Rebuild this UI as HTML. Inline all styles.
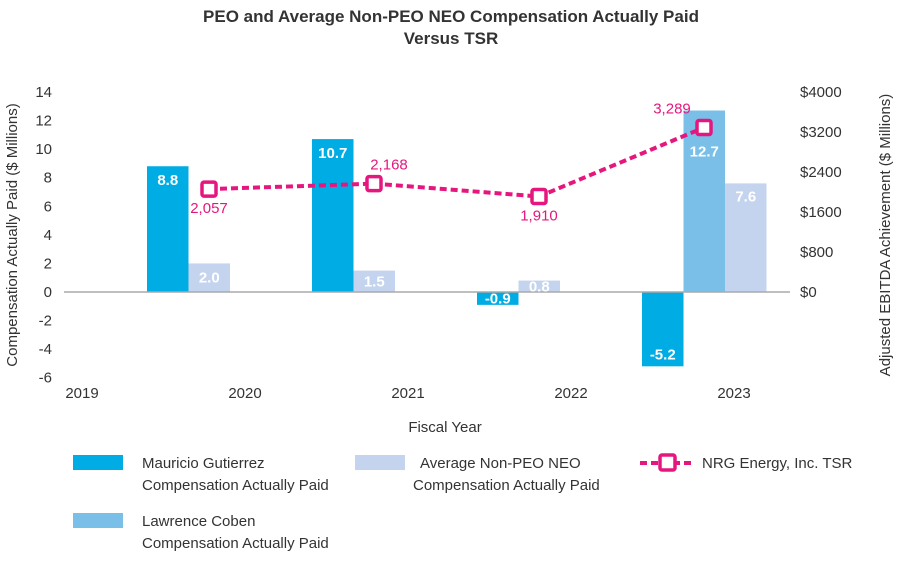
<!DOCTYPE html>
<html><head><meta charset="utf-8">
<style>
body{margin:0;background:#fff;font-family:"Liberation Sans",sans-serif;}
svg text{font-family:"Liberation Sans",sans-serif;}
</style></head>
<body>
<svg id="chart" width="902" height="559">
<text x="451" y="22" text-anchor="middle" font-size="17" font-weight="bold" fill="#333">PEO and Average Non-PEO NEO Compensation Actually Paid</text>
<text x="451" y="44" text-anchor="middle" font-size="17" font-weight="bold" fill="#333">Versus TSR</text>
<text transform="translate(17,235) rotate(-90)" text-anchor="middle" font-size="15" fill="#333">Compensation Actually Paid ($ Millions)</text>
<text transform="translate(890,235) rotate(-90)" text-anchor="middle" font-size="15" fill="#333">Adjusted EBITDA Achievement ($ Millions)</text>
<text x="445" y="432" text-anchor="middle" font-size="15" fill="#333">Fiscal Year</text>
<g id="plot"></g>
<g id="legend" font-size="15" fill="#333">
<rect x="73" y="455" width="50" height="15" fill="#00ace4"/>
<text x="142" y="468">Mauricio Gutierrez</text>
<text x="142" y="490">Compensation Actually Paid</text>
<rect x="355" y="455" width="50" height="15" fill="#c5d4ee"/>
<text x="420" y="468">Average Non-PEO NEO</text>
<text x="413" y="490">Compensation Actually Paid</text>
<line x1="640" y1="463" x2="694" y2="463" stroke="#e5177e" stroke-width="4" stroke-dasharray="7,4"/>
<rect x="660" y="455" width="15" height="15" rx="2" fill="#fff" stroke="#e5177e" stroke-width="3.5"/>
<text x="702" y="468">NRG Energy, Inc. TSR</text>
<rect x="73" y="513" width="50" height="15" fill="#7abfe8"/>
<text x="142" y="526">Lawrence Coben</text>
<text x="142" y="548">Compensation Actually Paid</text>
</g>
</svg>
<script>
const years=["2019","2020","2021","2022","2023"];
const gutierrez=[null,8.8,10.7,-0.9,-5.2];
const coben=[null,null,null,null,12.7];
const nonPeo=[null,2.0,1.5,0.8,7.6];
const tsr=[null,2057,2168,1910,3289];
const tsrLabels=["","2,057","2,168","1,910","3,289"];
const leftTicks=[14,12,10,8,6,4,2,0,-2,-4,-6];
const rightTicks=[4000,3200,2400,1600,800,0];
const rightTickLabels=["$4000","$3200","$2400","$1600","$800","$0"];

const NS="http://www.w3.org/2000/svg";
const g=document.getElementById('plot');
function el(t,a,txt){const e=document.createElementNS(NS,t);for(const k in a)e.setAttribute(k,a[k]);if(txt!=null)e.textContent=txt;g.appendChild(e);return e;}
const y=v=>292-v*14.29;
const y2=v=>292-v*0.05;
const bandStart=i=>126+(i-1)*165;
const bw=41.5;

leftTicks.forEach(t=>{const e=el('text',{x:52,y:y(t)+5,'text-anchor':'end','font-size':15,fill:'#333'},String(t));

});
rightTicks.forEach((t,i)=>{const e=el('text',{x:800,y:y2(t)+5,'font-size':15,fill:'#333'},rightTickLabels[i]);

});
years.forEach((yr,i)=>{const e=el('text',{x:245+(i-1)*163,y:398,'text-anchor':'middle','font-size':15,fill:'#333'},yr);

});

const labels=[];
function bar(i,slot,v,color,name,drop){
 if(v==null)return;
 const x=bandStart(i)+21+slot*bw;
 const top=Math.min(y(v),y(0)),h=Math.abs(y(v)-y(0));
 const r=el('rect',{x:x,y:top,width:bw,height:h,fill:color});
 
 
 let ly;
 if(h<30) ly=top+h/2+5;
 else ly=v>=0?y(v)+drop:y(v)-7;
 labels.push([x+bw/2,ly,v.toFixed(1),name]);
}
years.forEach((yr,i)=>{
 bar(i,0,gutierrez[i],'#00ace4','bar-gutierrez-'+yr,19);
 const hasC=coben[i]!=null;
 if(hasC)bar(i,1,coben[i],'#7abfe8','bar-coben-'+yr,46);
 bar(i,hasC?2:1,nonPeo[i],'#c5d4ee','bar-nonpeo-'+yr,18);
});
const zl=el('line',{x1:64,x2:790,y1:y(0),y2:y(0),stroke:'#aaa','stroke-width':1.5});


labels.forEach(l=>{
 const t=el('text',{x:l[0],y:l[1],'text-anchor':'middle','font-size':15,'font-weight':'bold',fill:'#fff'},l[2]);
 
 
});

const cx=i=>bandStart(i)+83;
const pts=[];tsr.forEach((v,i)=>{if(v!=null)pts.push([cx(i),y2(v)]);});
const pl=el('polyline',{points:pts.map(p=>p.join(',')).join(' '),fill:'none',stroke:'#e5177e','stroke-width':4,'stroke-dasharray':'7,4'});


const offs=[null,[0,24],[15,-14],[0,24],[-32,-14]];
tsr.forEach((v,i)=>{if(v==null)return;
 const m=el('rect',{x:cx(i)-7,y:y2(v)-7,width:14,height:14,rx:2,fill:'#fff',stroke:'#e5177e','stroke-width':3.5});
 
 
 const t=el('text',{x:cx(i)+offs[i][0],y:y2(v)+offs[i][1],'text-anchor':'middle','font-size':15,fill:'#e5177e'},tsrLabels[i]);
 
 
});
</script>
</body></html>
